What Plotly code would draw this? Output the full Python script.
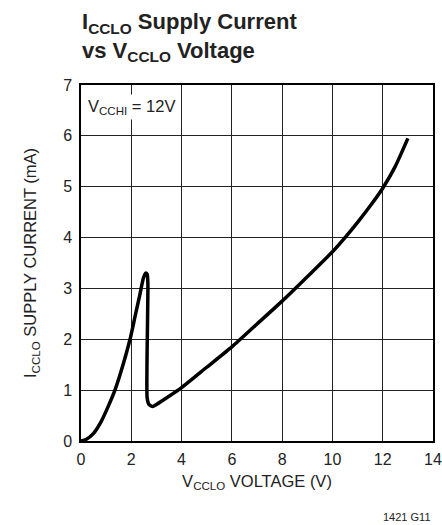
import plotly.graph_objects as go

# Curve data (V_CCLO in V, I_CCLO in mA), traced in order
v_cclo = [0, 0.2, 0.5, 0.8, 1.1, 1.35, 1.6, 1.95, 2.15, 2.35, 2.48, 2.57, 2.63, 2.66,
          2.65, 2.63, 2.62, 2.63, 2.7, 2.85, 3.0, 3.5, 4, 5, 6, 7, 8, 9, 10, 10.5, 11,
          11.5, 12, 12.5, 13]
i_cclo = [0, 0.03, 0.15, 0.38, 0.7, 1.0, 1.38, 2.0, 2.45, 2.9, 3.2, 3.3, 3.28, 3.1,
          2.5, 1.8, 1.2, 0.85, 0.72, 0.68, 0.72, 0.88, 1.05, 1.45, 1.85, 2.3, 2.75, 3.23,
          3.72, 4.0, 4.3, 4.62, 4.97, 5.4, 5.95]

x_ticks = [0, 2, 4, 6, 8, 10, 12, 14]
y_ticks = [0, 1, 2, 3, 4, 5, 6, 7]

FONT = "Liberation Sans, Arial, sans-serif"

fig = go.Figure()
fig.add_trace(go.Scatter(x=v_cclo, y=i_cclo, mode="lines",
                         line=dict(color="black", width=3.5, shape="spline", smoothing=0.6),
                         showlegend=False, hoverinfo="skip"))

axis_common = dict(showgrid=True, gridcolor="#222", gridwidth=1, showline=True,
                   linecolor="black", linewidth=1.5, mirror=True, zeroline=False,
                   ticks="", automargin=False,
                   tickfont=dict(family=FONT, size=16, color="#222"))

fig.update_layout(
    width=442, height=525,
    margin=dict(l=81, r=9, t=85, b=84),
    paper_bgcolor="white", plot_bgcolor="white",
    font=dict(family=FONT, color="#222"),
    xaxis=dict(range=[0, 14], tickvals=x_ticks, ticklabelstandoff=3, **axis_common,
               title=dict(text="V<sub>CCLO</sub> VOLTAGE (V)", standoff=8,
                          font=dict(family=FONT, size=16.5, color="#222"))),
    yaxis=dict(range=[0, 7], tickvals=y_ticks, ticklabelstandoff=4, **axis_common,
               title=dict(text="I<sub>CCLO</sub> SUPPLY CURRENT (mA)", standoff=22,
                          font=dict(family=FONT, size=16.5, color="#222"))),
)

fig.add_annotation(text="<b>I<sub>CCLO</sub> Supply Current<br>vs V<sub>CCLO</sub> Voltage</b>",
                   xref="paper", yref="paper", x=-1/352, y=1 + 78/356,
                   xanchor="left", yanchor="top", align="left", showarrow=False,
                   font=dict(family=FONT, size=22, color="#222"))
fig.add_annotation(text="V<sub>CCHI</sub> = 12V", xref="paper", yref="paper",
                   x=0.01, y=0.975, xanchor="left", yanchor="top", showarrow=False,
                   bgcolor="white", borderpad=2,
                   font=dict(family=FONT, size=16.5, color="#222"))
fig.add_annotation(text="1421 G11", xref="paper", yref="paper",
                   x=1.0, y=-0.19, xanchor="right", yanchor="top", showarrow=False,
                   font=dict(family=FONT, size=11, color="#222"))

fig.write_html("out.html", config={"displayModeBar": False},
               post_script="document.body.style.margin='0';document.body.style.overflow='hidden';")
